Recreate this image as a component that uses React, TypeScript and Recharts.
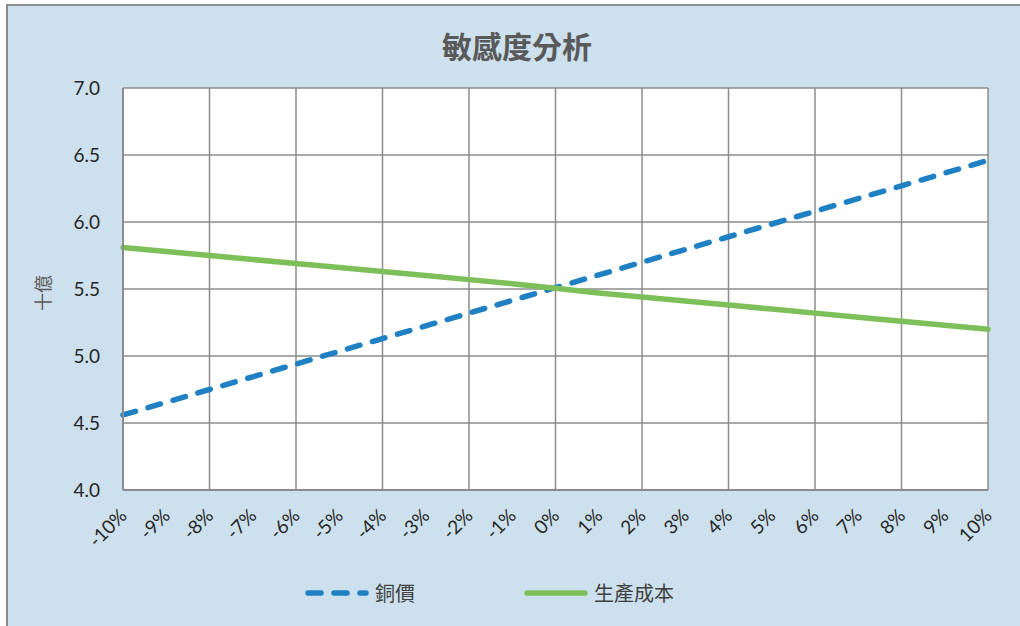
import React from 'react';
import { LineChart, Line, XAxis, YAxis, CartesianGrid, Legend } from 'recharts';

// Sensitivity of value (billions) to ±10% changes in copper price and production cost
const categories = [
  '-10%', '-9%', '-8%', '-7%', '-6%', '-5%', '-4%', '-3%', '-2%', '-1%', '0%',
  '1%', '2%', '3%', '4%', '5%', '6%', '7%', '8%', '9%', '10%',
];
const copperPrice = [
  4.56, 4.655, 4.75, 4.845, 4.94, 5.035, 5.13, 5.225, 5.32, 5.415, 5.51,
  5.605, 5.70, 5.795, 5.89, 5.985, 6.08, 6.175, 6.27, 6.365, 6.46,
];
const productionCost = [
  5.81, 5.78, 5.75, 5.72, 5.69, 5.66, 5.63, 5.60, 5.57, 5.54, 5.505,
  5.47, 5.44, 5.41, 5.38, 5.35, 5.32, 5.29, 5.26, 5.23, 5.20,
];
const yTicks = [4.0, 4.5, 5.0, 5.5, 6.0, 6.5, 7.0];

const title = '敏感度分析';
const yLabel = '十億';

const series = [
  { key: 'copper', name: '銅價', color: '#1f80c3', dash: '13 13', width: 5.5 },
  { key: 'cost', name: '生產成本', color: '#7dc05a', dash: undefined as string | undefined, width: 5.5 },
];

const data = categories.map((c, i) => ({
  label: c,
  copper: copperPrice[i],
  cost: productionCost[i],
}));

const W = 1020;
const H = 626;
const LATIN = 'Lato, "Noto Sans", sans-serif';
const CJK = '"Noto Sans CJK TC", "Noto Sans CJK SC", sans-serif';

// vertical grid lines on every second category
const verticalGrid = ({ offset }: any) => {
  const n = categories.length - 1;
  const pts: number[] = [];
  for (let i = 0; i <= n; i += 2) pts.push(offset.left + (offset.width * i) / n);
  return pts;
};

const XTick = (props: any) => {
  const { x, y, payload } = props;
  const ax = x + 5;
  const ay = y + 27;
  return (
    <text
      x={ax}
      y={ay}
      textAnchor="end"
      transform={`rotate(-45 ${ax} ${ay})`}
      fontFamily={LATIN}
      fontSize={19}
      fill="#262626"
    >
      {payload.value}
    </text>
  );
};

const LegendContent = () => {
  const lefts = [305, 524];
  return (
    <div style={{ position: 'relative', width: W, height: 24 }}>
      {series.map((s, i) => (
        <div
          key={s.key}
          style={{
            position: 'absolute',
            left: lefts[i],
            top: 0,
            height: 24,
            display: 'flex',
            alignItems: 'center',
          }}
        >
          <svg width={64} height={24}>
            <line
              x1={3}
              y1={12}
              x2={61}
              y2={12}
              stroke={s.color}
              strokeWidth={s.width}
              strokeDasharray={s.dash}
              strokeLinecap="round"
            />
          </svg>
          <span
            style={{
              marginLeft: 6,
              fontFamily: CJK,
              fontSize: 20,
              color: '#404040',
              lineHeight: '24px',
              whiteSpace: 'nowrap',
            }}
          >
            {s.name}
          </span>
        </div>
      ))}
    </div>
  );
};

export default function App() {
  return (
    <div style={{ position: 'absolute', left: 0, top: 0, width: W, height: H, background: '#ffffff', overflow: 'hidden' }}>
      <div
        style={{
          position: 'absolute',
          left: 6,
          top: 4,
          width: W - 6 + 4,
          height: H - 4 + 4,
          boxSizing: 'border-box',
          background: '#cde0ed',
          borderTop: '2px solid #8c8c8c',
          borderLeft: '2px solid #8c8c8c',
        }}
      />
      <div
        style={{
          position: 'absolute',
          left: 0,
          width: W,
          top: 25,
          textAlign: 'center',
          paddingLeft: 14,
          boxSizing: 'border-box',
          fontFamily: CJK,
          fontWeight: 700,
          fontSize: 30,
          lineHeight: '40px',
          color: '#595959',
        }}
      >
        {title}
      </div>
      <div
        style={{
          position: 'absolute',
          left: 42,
          top: 293,
          transform: 'translate(-50%, -50%) rotate(-90deg)',
          fontFamily: CJK,
          fontSize: 18,
          color: '#595959',
          whiteSpace: 'nowrap',
          lineHeight: '20px',
        }}
      >
        {yLabel}
      </div>
      <div style={{ position: 'absolute', left: 0, top: 0 }}>
        <LineChart
          width={W}
          height={H}
          data={data}
          margin={{ top: 88, right: 32, bottom: 21, left: 63 }}
        >
          <CartesianGrid
            stroke="#8c8c8c"
            strokeWidth={1.5}
            fill="#ffffff"
            verticalCoordinatesGenerator={verticalGrid}
          />
          <XAxis
            dataKey="label"
            interval={0}
            tickLine={false}
            tickSize={0}
            tickMargin={0}
            height={91}
            axisLine={{ stroke: '#8c8c8c', strokeWidth: 2 }}
            tick={<XTick />}
          />
          <YAxis
            width={60}
            domain={[4, 7]}
            ticks={yTicks}
            interval={0}
            tickLine={false}
            tickSize={0}
            tickMargin={23}
            axisLine={{ stroke: '#8c8c8c', strokeWidth: 2 }}
            tickFormatter={(v: number) => v.toFixed(1)}
            tick={{ fontFamily: LATIN, fontSize: 19, fill: '#262626' }}
          />
          <Legend verticalAlign="bottom" wrapperStyle={{ left: 0, width: W }} content={<LegendContent />} />
          {series.map((s) => (
            <Line
              key={s.key}
              type="linear"
              dataKey={s.key}
              name={s.name}
              stroke={s.color}
              strokeWidth={s.width}
              strokeDasharray={s.dash}
              strokeLinecap="round"
              dot={false}
              activeDot={false}
              isAnimationActive={false}
            />
          ))}
        </LineChart>
      </div>
    </div>
  );
}
